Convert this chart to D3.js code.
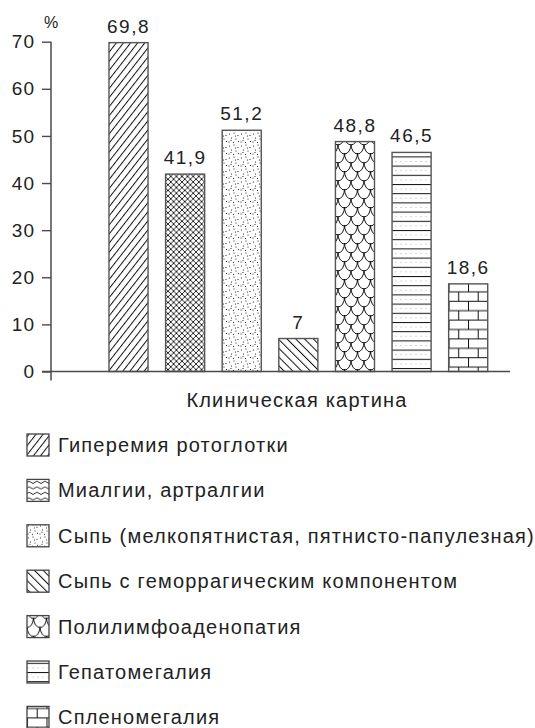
<!DOCTYPE html>
<html>
<head>
<meta charset="utf-8">
<script src="https://cdn.jsdelivr.net/npm/d3@7"></script>
<style>
  html, body { margin: 0; padding: 0; background: #fff; }
  svg { display: block; }
  text { font-family: "Liberation Sans", Arial, sans-serif; fill: #222; }
</style>
</head>
<body>
<svg id="chart" width="535" height="728"></svg>
<script>
// Clinical picture: share of patients (%) by symptom
const categories = [
  "Гиперемия ротоглотки",
  "Миалгии, артралгии",
  "Сыпь (мелкопятнистая, пятнисто-папулезная)",
  "Сыпь с геморрагическим компонентом",
  "Полилимфоаденопатия",
  "Гепатомегалия",
  "Спленомегалия"
];
const values = [69.8, 41.9, 51.2, 7, 48.8, 46.5, 18.6];
const barPatterns = ["diag", "cross", "dots", "back", "scales", "hlines", "bricks"];
const legendPatterns = ["diag", "waves", "dots", "back", "scales", "hlines", "bricks"];
const yTicks = [0, 10, 20, 30, 40, 50, 60, 70];
const yUnit = "%";
const xTitle = "Клиническая картина";

const svg = d3.select("#chart");
const defs = svg.append("defs");

// ---- fill patterns ----
function pat(id, w, h, transform) {
  const p = defs.append("pattern").attr("id", id)
    .attr("patternUnits", "userSpaceOnUse")
    .attr("width", w).attr("height", h);
  if (transform) p.attr("patternTransform", transform);
  p.append("rect").attr("width", w).attr("height", h).attr("fill", "#fff");
  return p;
}
const ink = "#111";

pat("diag", 5.6, 20, "rotate(38)")
  .append("line").attr("x1", 0.5).attr("x2", 0.5).attr("y1", 0).attr("y2", 20)
  .attr("stroke", ink).attr("stroke-width", 1);

pat("back", 6.2, 20, "rotate(-45)")
  .append("line").attr("x1", 0.5).attr("x2", 0.5).attr("y1", 0).attr("y2", 20)
  .attr("stroke", ink).attr("stroke-width", 1);

pat("cross", 5.6, 5.6)
  .append("path").attr("d", "M0,0L5.6,5.6M5.6,0L0,5.6")
  .attr("stroke", ink).attr("stroke-width", 0.9).attr("fill", "none");

const dotTile = pat("dots", 12, 12);
[[1.5,2],[6,1],[10,3.5],[3.5,6],[8,7],[1,10],[5.5,10.5],[10.5,9.5],[7.5,4],[3,8.5]]
  .forEach(d => dotTile.append("circle").attr("cx", d[0]).attr("cy", d[1]).attr("r", 0.6).attr("fill", ink));

// fish-scale arcs, rows offset by half a scale so the arcs cross
const sc = pat("scales", 13, 18);
const scPath = [];
[[-9, -6.5], [0, 0], [9, -6.5]].forEach(([y, x0]) => {
  for (let x = x0; x < 13; x += 13) {
    scPath.push(`M${x},${y}A6.5,10 0 0,0 ${x + 13},${y}`);
  }
});
sc.append("path").attr("d", scPath.join("")).attr("stroke", ink)
  .attr("stroke-width", 1).attr("fill", "none");

const hl = pat("hlines", 10, 9.2);
hl.append("line").attr("x1", 0).attr("x2", 10).attr("y1", 0.5).attr("y2", 0.5)
  .attr("stroke", ink).attr("stroke-width", 1);
hl.append("line").attr("x1", 0).attr("x2", 10).attr("y1", 5).attr("y2", 5)
  .attr("stroke", "#aaa").attr("stroke-width", 0.5).attr("stroke-dasharray", "2,3");

const br = pat("bricks", 19.5, 18.8);
br.append("path")
  .attr("d", "M0,0.5H19.5M0,9.9H19.5M0.5,0.5V9.9M10.2,9.9V18.8")
  .attr("stroke", ink).attr("stroke-width", 1).attr("fill", "none");

pat("waves", 8, 5.5)
  .append("path").attr("d", "M0,3Q2,0.8 4,3T8,3")
  .attr("stroke", ink).attr("stroke-width", 0.9).attr("fill", "none");

// ---- scales ----
const y = d3.scaleLinear().domain([0, 70]).range([371.5, 41.7]);
const x = d3.scaleBand().domain(categories)
  .range([100.2, 496.5]).paddingInner(0.31).paddingOuter(0.155);

const axisColor = "#4a4a4a";

// y axis
const yAxis = svg.append("g").attr("transform", "translate(51,0)")
  .call(d3.axisLeft(y).tickValues(yTicks).tickSize(9).tickPadding(7));
yAxis.select(".domain").remove();
yAxis.selectAll(".tick line").attr("stroke", axisColor).attr("stroke-width", 1.4);
yAxis.selectAll(".tick text")
  .attr("font-size", 19).attr("letter-spacing", 1).attr("fill", "#222")
  .style("font-family", "'Liberation Sans', Arial, sans-serif");

svg.append("line").attr("x1", 51).attr("x2", 51)
  .attr("y1", y(70)).attr("y2", y(0) + 9)
  .attr("stroke", axisColor).attr("stroke-width", 1.5);

svg.append("text").attr("x", 51).attr("y", 28)
  .attr("text-anchor", "middle").attr("font-size", 16).text(yUnit);

// bars
const data = categories.map((c, i) => ({ c, v: values[i], p: barPatterns[i] }));
svg.append("g").selectAll("rect").data(data).join("rect")
  .attr("x", d => x(d.c)).attr("width", x.bandwidth())
  .attr("y", d => y(d.v)).attr("height", d => y(0) - y(d.v))
  .attr("fill", d => `url(#${d.p})`)
  .attr("stroke", "#555").attr("stroke-width", 1.4);

// value labels
svg.append("g").selectAll("text").data(data).join("text")
  .attr("x", d => x(d.c) + x.bandwidth() / 2)
  .attr("y", d => y(d.v) - 10)
  .attr("text-anchor", "middle").attr("font-size", 19).attr("letter-spacing", 1.5)
  .text(d => String(d.v).replace(".", ","));

// x axis baseline
svg.append("line").attr("x1", 42).attr("x2", 510)
  .attr("y1", y(0)).attr("y2", y(0))
  .attr("stroke", axisColor).attr("stroke-width", 1.5);

svg.append("text").attr("x", 297).attr("y", 407)
  .attr("text-anchor", "middle").attr("font-size", 20).attr("letter-spacing", 1.2)
  .text(xTitle);

// legend
const legend = svg.append("g").selectAll("g").data(categories).join("g")
  .attr("transform", (d, i) => `translate(27,${445 + i * 45.4})`);
legend.append("rect")
  .attr("x", 0).attr("y", -11).attr("width", 22).attr("height", 22)
  .attr("fill", (d, i) => `url(#${legendPatterns[i]})`)
  .attr("stroke", "#444").attr("stroke-width", 1.3);
legend.append("text")
  .attr("x", 31).attr("y", 0).attr("dy", "0.35em")
  .attr("font-size", 20).attr("letter-spacing", 1.2)
  .text(d => d);
</script>
</body>
</html>
